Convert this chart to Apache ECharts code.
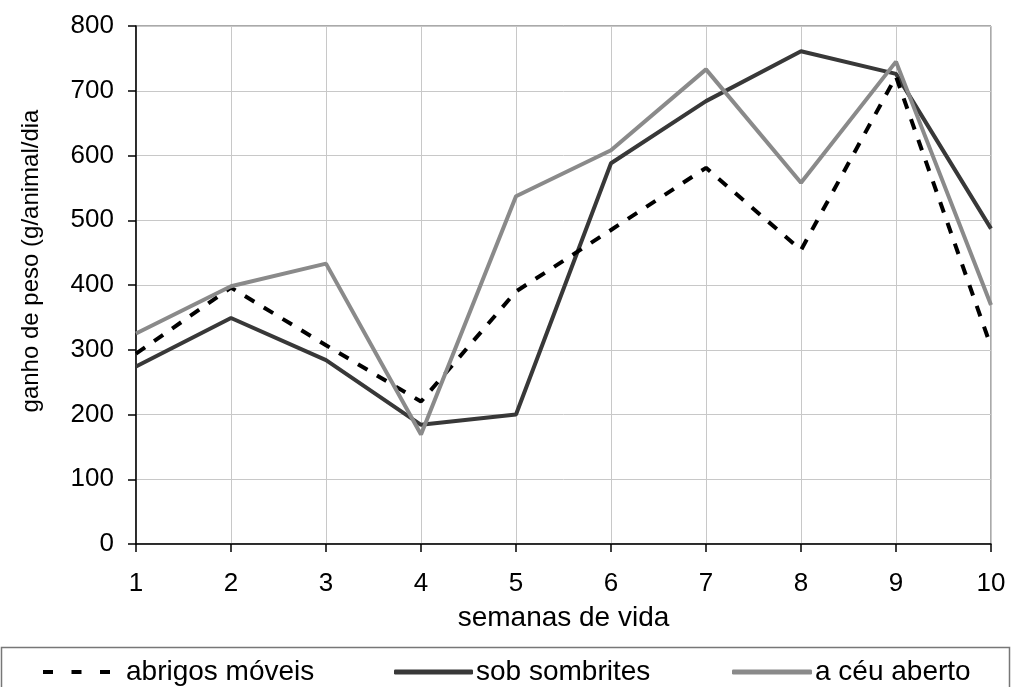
<!DOCTYPE html>
<html>
<head>
<meta charset="utf-8">
<script src="https://cdn.jsdelivr.net/npm/echarts@6/dist/echarts.min.js"></script>
<style>
  html, body { margin: 0; padding: 0; background: #fff; }
  #chart { width: 1011px; height: 687px; }
</style>
</head>
<body>
<div id="chart"></div>
<script>
// Weekly weight gain (g/animal/day) by housing system
const weeks = [1, 2, 3, 4, 5, 6, 7, 8, 9, 10];
const abrigosMoveis = [294, 396, 307, 220, 390, 485, 581, 454, 722, 305];
const sobSombrites = [274, 349, 284, 184, 200, 588, 684, 761, 726, 487];
const ceuAberto = [325, 398, 433, 169, 537, 608, 733, 558, 745, 369];
const yTicks = [0, 100, 200, 300, 400, 500, 600, 700, 800];

const seriesNames = ['abrigos móveis', 'sob sombrites', 'a céu aberto'];
const FONT = 'Liberation Sans, Arial, sans-serif';

const pairs = arr => weeks.map((w, i) => [w, arr[i]]);

const chart = echarts.init(document.getElementById('chart'), null, { renderer: 'canvas' });

const legendText = { color: '#000', fontFamily: FONT, fontSize: 28, lineHeight: 30 };

chart.setOption({
  animation: false,
  backgroundColor: '#fff',
  grid: {
    left: 136, right: 20, top: 26, bottom: 143,
    show: true, borderColor: '#555', borderWidth: 1, backgroundColor: 'transparent'
  },
  xAxis: {
    type: 'value', min: 1, max: 10, interval: 1,
    name: 'semanas de vida', nameLocation: 'middle', nameGap: 60,
    nameTextStyle: { color: '#000', fontFamily: FONT, fontSize: 28 },
    axisLine: { show: true, lineStyle: { color: '#000', width: 1.5 } },
    axisTick: { show: true, inside: false, length: 8, lineStyle: { color: '#000', width: 1.5 } },
    axisLabel: { color: '#000', fontFamily: FONT, fontSize: 26, margin: 27 },
    splitLine: { show: true, lineStyle: { color: '#c8c8c8', width: 1 } }
  },
  yAxis: {
    type: 'value', min: yTicks[0], max: yTicks[yTicks.length - 1], interval: yTicks[1] - yTicks[0],
    name: 'ganho de peso (g/animal/dia', nameLocation: 'middle', nameGap: 93,
    nameTextStyle: { color: '#000', fontFamily: FONT, fontSize: 24, padding: [0, 0, 0, 48] },
    axisLine: { show: true, lineStyle: { color: '#000', width: 1.5 } },
    axisTick: { show: true, inside: false, length: 8, lineStyle: { color: '#000', width: 1.5 } },
    axisLabel: { color: '#000', fontFamily: FONT, fontSize: 26, margin: 22 },
    splitLine: { show: true, lineStyle: { color: '#c8c8c8', width: 1 } }
  },
  legend: [
    {
      data: [{ name: seriesNames[0], icon: 'path://M0,0h10v4h-10z M28.5,0h10v4h-10z M57,0h10v4h-10z' }],
      left: 43, top: 657, padding: 0, itemWidth: 67, itemHeight: 4,
      textStyle: Object.assign({ padding: [0, 0, 0, 11] }, legendText),
      selectedMode: false
    },
    {
      data: [{ name: seriesNames[1], icon: 'roundRect' }],
      left: 394, top: 657, padding: 0, itemWidth: 79, itemHeight: 5,
      textStyle: Object.assign({ padding: [0, 0, 0, -2] }, legendText),
      selectedMode: false
    },
    {
      data: [{ name: seriesNames[2], icon: 'roundRect' }],
      left: 732, top: 657, padding: 0, itemWidth: 80, itemHeight: 5,
      textStyle: Object.assign({ padding: [0, 0, 0, -2] }, legendText),
      selectedMode: false
    }
  ],
  graphic: [
    {
      type: 'rect', silent: true, z: -1,
      shape: { x: 1.5, y: 647.5, width: 1008, height: 60 },
      style: { fill: 'none', stroke: '#777', lineWidth: 1.5 }
    }
  ],
  series: [
    {
      name: seriesNames[0], type: 'line', data: pairs(abrigosMoveis),
      symbol: 'none', z: 3,
      itemStyle: { color: '#000' },
      lineStyle: { color: '#000', width: 4, type: [11, 11] }
    },
    {
      name: seriesNames[1], type: 'line', data: pairs(sobSombrites),
      symbol: 'none', z: 2,
      itemStyle: { color: '#383838' },
      lineStyle: { color: '#383838', width: 4 }
    },
    {
      name: seriesNames[2], type: 'line', data: pairs(ceuAberto),
      symbol: 'none', z: 4,
      itemStyle: { color: '#8a8a8a' },
      lineStyle: { color: '#8a8a8a', width: 4 }
    }
  ]
});
</script>
</body>
</html>
